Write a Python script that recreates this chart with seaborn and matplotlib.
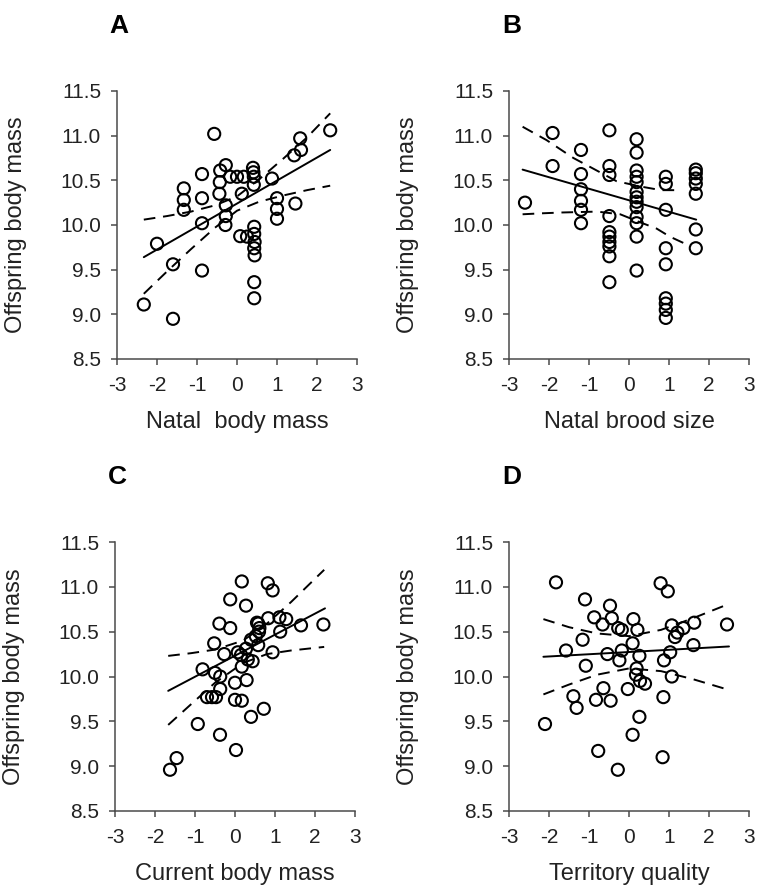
import numpy as np
import pandas as pd
import seaborn as sns
import matplotlib.pyplot as plt

# ---- data ----
# Panel A: natal body mass
a_x = [-2.33, -2.0, -1.6, -1.6, -1.33, -1.33, -1.33, -0.875, -0.875, -0.875, -0.875,
       -0.57, -0.42, -0.43, -0.44, -0.28, -0.28, -0.28, -0.29, -0.17, 0.0, 0.17, 0.12,
       0.08, 0.25, 0.40, 0.41, 0.42, 0.42, 0.43, 0.43, 0.44, 0.43, 0.44, 0.43, 0.43,
       0.875, 1.0, 1.0, 1.0, 1.46, 1.43, 1.58, 1.6, 2.33]
a_y = [9.11, 9.79, 8.95, 9.56, 10.41, 10.28, 10.17, 10.57, 10.30, 10.02, 9.49,
       11.02, 10.61, 10.48, 10.35, 10.67, 10.22, 10.10, 10.0, 10.54, 10.54, 10.54, 10.35,
       9.875, 9.87, 10.64, 10.59, 10.54, 10.45, 9.98, 9.90, 9.81, 9.74, 9.66, 9.36, 9.18,
       10.52, 10.30, 10.18, 10.07, 10.24, 10.78, 10.97, 10.84, 11.06]
a_fit_x = [-2.33, 2.33]
a_fit_y = [9.64, 10.84]
a_band_x = [-2.33, -1.75, -1.15, -0.55, 0.0, 0.55, 1.15, 1.75, 2.33]
a_upper = [10.06, 10.10, 10.15, 10.22, 10.32, 10.51, 10.74, 10.98, 11.25]
a_lower_x = a_band_x
a_lower = [9.23, 9.48, 9.73, 9.97, 10.16, 10.26, 10.33, 10.39, 10.44]

# Panel B: natal brood size
b_x = [-2.6, -1.91, -1.91, -1.2, -1.2, -1.2, -1.2, -1.2, -1.2,
       -0.49, -0.49, -0.49, -0.49, -0.49, -0.49, -0.49, -0.49, -0.49, -0.49,
       0.19, 0.19, 0.19, 0.19, 0.19, 0.19, 0.19, 0.19, 0.19, 0.19, 0.19, 0.19, 0.19,
       0.92, 0.92, 0.92, 0.92, 0.92, 0.92, 0.92, 0.92, 0.92,
       1.67, 1.67, 1.67, 1.67, 1.67, 1.67, 1.67]
b_y = [10.25, 11.03, 10.66, 10.84, 10.57, 10.40, 10.27, 10.17, 10.02,
       11.06, 10.66, 10.56, 10.10, 9.92, 9.87, 9.81, 9.76, 9.65, 9.36,
       10.96, 10.81, 10.61, 10.54, 10.48, 10.37, 10.31, 10.26, 10.20, 10.09, 10.02, 9.87, 9.49,
       10.54, 10.46, 10.17, 9.74, 9.56, 9.18, 9.12, 9.05, 8.96,
       10.62, 10.58, 10.52, 10.46, 10.35, 9.95, 9.74]
b_fit_x = [-2.66, 1.68]
b_fit_y = [10.62, 10.06]
b_band_x = [-2.66, -2.06, -1.39, -0.89, -0.31, 0.3, 0.8, 1.28]
b_upper = [11.10, 10.95, 10.75, 10.63, 10.49, 10.43, 10.39, 10.39]
b_lower_x = [-2.66, -2.22, -1.68, -0.8, -0.22, 0.28, 0.69, 1.02, 1.5]
b_lower = [10.12, 10.13, 10.14, 10.15, 10.12, 10.03, 9.96, 9.87, 9.77]

# Panel C: current body mass
c_x = [0.17, 0.82, 0.94, -0.12, 0.275, -0.39, -0.12, -0.52, -0.27, 0.07, 0.58, 0.61,
       0.55, 0.60, 0.52, 0.83, 1.11, 1.28, 1.13, 1.65, 2.21, 0.94, 0.58, 0.40, 0.275,
       0.15, 0.32, 0.44, 0.17, -0.81, -0.50, -0.37, -0.37, -0.70, -0.575, -0.475, 0.0,
       0.29, 0.0, 0.17, 0.40, 0.72, -0.93, -0.375, 0.025, -1.46, -1.625]
c_y = [11.06, 11.04, 10.96, 10.86, 10.79, 10.59, 10.54, 10.37, 10.25, 10.27, 10.59, 10.54,
       10.60, 10.50, 10.45, 10.65, 10.66, 10.64, 10.50, 10.57, 10.58, 10.27, 10.35, 10.41, 10.31,
       10.24, 10.19, 10.17, 10.11, 10.08, 10.04, 10.0, 9.86, 9.77, 9.77, 9.77, 9.93,
       9.96, 9.74, 9.73, 9.55, 9.64, 9.47, 9.35, 9.18, 9.09, 8.96]
c_fit_x = [-1.67, 2.25]
c_fit_y = [9.84, 10.76]
c_band_x = [-1.67, -1.1, -0.5, 0.2, 0.8, 1.4, 2.23]
c_upper = [10.23, 10.26, 10.30, 10.40, 10.59, 10.83, 11.19]
c_lower_x = c_band_x
c_lower = [9.46, 9.69, 9.93, 10.15, 10.25, 10.29, 10.33]

# Panel D: territory quality
d_x = [-1.825, -2.1, -1.575, -1.39, -1.31, -1.1, -1.16, -1.08, -0.87, -0.66, -0.475,
       -0.43, -0.27, -0.18, -0.54, -0.24, -0.18, -0.64, -0.825, -0.46, -0.03, 0.11, 0.21,
       0.09, 0.26, 0.19, 0.175, 0.275, 0.4, 0.26, 0.09, -0.77, -0.28, 0.84, 0.79, 0.97,
       1.07, 1.15, 1.21, 1.36, 1.63, 1.61, 1.03, 0.875, 1.07, 0.86, 2.45]
d_y = [11.05, 9.47, 10.29, 9.78, 9.65, 10.86, 10.41, 10.12, 10.66, 10.58, 10.79,
       10.65, 10.54, 10.52, 10.25, 10.18, 10.29, 9.87, 9.74, 9.73, 9.86, 10.64, 10.52,
       10.37, 10.23, 10.09, 10.02, 9.95, 9.92, 9.55, 9.35, 9.17, 8.96, 9.10, 11.04, 10.95,
       10.57, 10.44, 10.49, 10.54, 10.60, 10.35, 10.27, 10.18, 10.0, 9.77, 10.58]
d_fit_x = [-2.14, 2.5]
d_fit_y = [10.22, 10.335]
d_band_x = [-2.14, -1.5, -0.8, 0.0, 0.8, 1.6, 2.5]
d_upper = [10.64, 10.55, 10.48, 10.45, 10.52, 10.65, 10.81]
d_lower_x = d_band_x
d_lower = [9.80, 9.91, 10.02, 10.09, 10.06, 9.97, 9.85]

x_labels = ['Natal  body mass', 'Natal brood size', 'Current body mass', 'Territory quality']
letters = ['A', 'B', 'C', 'D']
y_label = 'Offspring body mass'
x_ticks = [-3, -2, -1, 0, 1, 2, 3]
y_ticks = [8.5, 9.0, 9.5, 10.0, 10.5, 11.0, 11.5]

# ---- drawing ----
sns.set_style('ticks')
plt.rcParams['font.family'] = ['Liberation Sans', 'DejaVu Sans']

W, H = 757, 893
fig = plt.figure(figsize=(W / 100, H / 100), dpi=100)

# axes boxes in pixels: left, top, right, bottom
boxes = [(117, 91, 357, 359), (509, 91, 749, 359),
         (115, 542, 355, 811), (509, 542, 749, 811)]

panels = [
    (a_x, a_y, a_fit_x, a_fit_y, a_band_x, a_upper, a_lower_x, a_lower),
    (b_x, b_y, b_fit_x, b_fit_y, b_band_x, b_upper, b_lower_x, b_lower),
    (c_x, c_y, c_fit_x, c_fit_y, c_band_x, c_upper, c_lower_x, c_lower),
    (d_x, d_y, d_fit_x, d_fit_y, d_band_x, d_upper, d_lower_x, d_lower),
]

spine_col = '#4a4a4a'
text_col = '#222222'

for i, (px, py, fx, fy, ux, uy, lx, ly) in enumerate(panels):
    l, t, r, b = boxes[i]
    ax = fig.add_axes([l / W, 1 - b / H, (r - l) / W, (b - t) / H])
    df = pd.DataFrame({'x': px, 'y': py})

    sns.lineplot(x=fx, y=fy, ax=ax, color='black', lw=1.4, sort=False,
                 estimator=None, errorbar=None)
    sns.lineplot(x=ux, y=uy, ax=ax, color='black', lw=1.4, sort=False,
                 estimator=None, errorbar=None)
    ax.lines[-1].set_linestyle((0, (6, 4)))
    sns.lineplot(x=lx, y=ly, ax=ax, color='black', lw=1.4, sort=False,
                 estimator=None, errorbar=None)
    ax.lines[-1].set_linestyle((0, (6, 4)))
    sns.scatterplot(data=df, x='x', y='y', ax=ax, marker='o', s=76,
                    facecolor='none', edgecolor='black', linewidth=1.5, zorder=3)

    ax.set_xlim(-3, 3)
    ax.set_ylim(8.5, 11.5)
    ax.set_xticks(x_ticks)
    ax.set_xticklabels([str(v) for v in x_ticks])
    ax.set_yticks(y_ticks)
    ax.set_yticklabels([f'{v:.1f}' for v in y_ticks])
    ax.tick_params(direction='out', length=4.5, width=1.1, color=spine_col,
                   labelsize=15, labelcolor=text_col, pad=7)
    ax.tick_params(axis='x', pad=8)
    for s in ['top', 'right']:
        ax.spines[s].set_visible(False)
    for s in ['left', 'bottom']:
        ax.spines[s].set_color(spine_col)
        ax.spines[s].set_linewidth(1.1)

    ax.set_xlabel(x_labels[i], fontsize=17, color=text_col)
    ax.set_ylabel(y_label, fontsize=17, color=text_col)
    ax.xaxis.set_label_coords(0.5, -0.235)
    ax.yaxis.set_label_coords(-0.42, 0.5)
    ax.xaxis.label.set_va('center')
    ax.yaxis.label.set_va('center')

    ax.text(-0.03, 1.215, letters[i], transform=ax.transAxes, fontsize=19,
            fontweight='bold', color='black', ha='left', va='baseline')

fig.savefig('out.png', dpi=100)
